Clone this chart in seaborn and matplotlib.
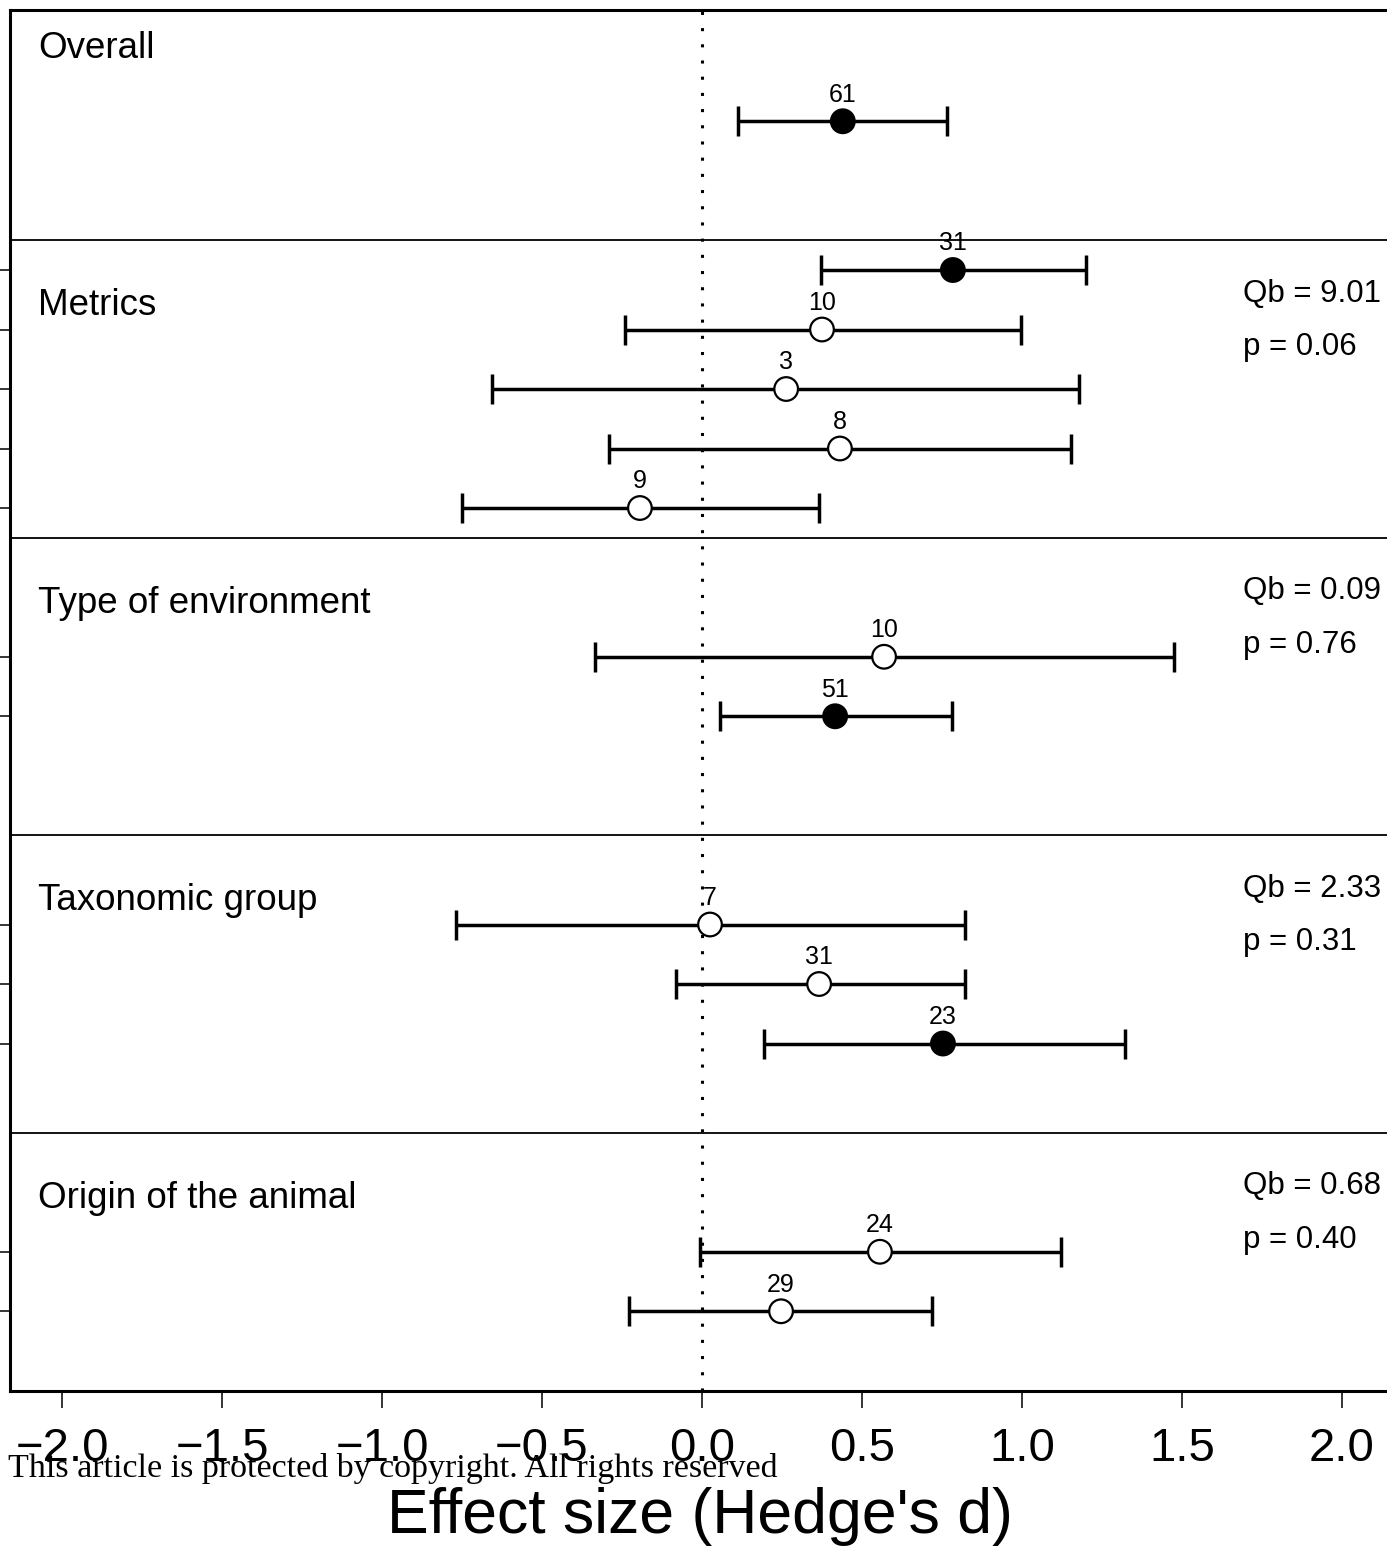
import numpy as np
import pandas as pd
import seaborn as sns
from matplotlib import pyplot as plt

# ------------------------------------------------------------------
# data
groups = ['Overall', 'Metrics', 'Type of environment', 'Taxonomic group', 'Origin of the animal']
group_sizes = [1, 5, 2, 3, 2]
qb_values = [None, '9.01', '0.09', '2.33', '0.68']
p_values = [None, '0.06', '0.76', '0.31', '0.40']

estimate = [0.44, 0.784, 0.375, 0.263, 0.431, -0.194, 0.569, 0.416, 0.025, 0.366, 0.753, 0.556, 0.247]
ci_low = [0.113, 0.372, -0.24, -0.656, -0.29, -0.75, -0.334, 0.056, -0.769, -0.081, 0.194, -0.006, -0.228]
ci_high = [0.766, 1.2, 0.997, 1.178, 1.153, 0.366, 1.475, 0.781, 0.822, 0.822, 1.322, 1.122, 0.719]
n_studies = [61, 31, 10, 3, 8, 9, 10, 51, 7, 31, 23, 24, 29]
significant = [True, True, False, False, False, False, False, True, False, False, True, False, False]

# ------------------------------------------------------------------
# layout: each group gets a block, rows centred in it (top to bottom)
block_heights = [4, 5, 5, 5, 5]
block_tops = []
ypos = []
top = 23.0
for h, k in zip(block_heights, group_sizes):
    block_tops.append(top)
    centre = top - h / 2
    for i in range(k):
        ypos.append(centre + (k - 1) / 2 - i)
    top -= h

df = pd.DataFrame({'est': estimate, 'lo': ci_low, 'hi': ci_high,
                   'n': n_studies, 'sig': significant, 'y': ypos})

W, H = 1387, 1551
sns.set_style('ticks')
plt.rcParams['font.family'] = ['Liberation Sans', 'DejaVu Sans']
plt.rcParams.update({'text.color': 'black', 'axes.edgecolor': 'black', 'axes.labelcolor': 'black',
                     'xtick.color': 'black', 'ytick.color': 'black'})
fig = plt.figure(figsize=(W / 100, H / 100), dpi=100)

ax = fig.add_axes([10 / W, 160 / H, 1385 / W, 1381 / H])
x_left = (10 - 702) / 320
x_right = (1395 - 702) / 320
y_bottom, y_top = -0.34, 22.87

# confidence intervals
ax.errorbar(df['est'], df['y'], xerr=[df['est'] - df['lo'], df['hi'] - df['est']],
            fmt='none', ecolor='black', elinewidth=2.5, capsize=10.8, capthick=2.5, zorder=2)

# point estimates (filled = significant)
sns.scatterplot(data=df, x='est', y='y', hue='sig', palette={True: 'black', False: 'white'},
                edgecolor='black', linewidth=1.6, s=290, legend=False, zorder=3, ax=ax)

# number of studies above each point
for _, r in df.iterrows():
    ax.text(r['est'], r['y'] + 0.33, str(r['n']), ha='center', va='baseline', fontsize=18)

# zero line
ax.axvline(0, color='black', lw=2.2, linestyle=(0, (1, 4.3)), zorder=1)

# group separators, labels and heterogeneity stats
for i, g in enumerate(groups):
    bt = block_tops[i]
    if i == 0:
        label_y = y_top - 0.65
    else:
        ax.axhline(bt, color='black', lw=1.3, zorder=1)
        label_y = bt - 1.1
    ax.text(-2.075, label_y, g, ha='left', va='center', fontsize=26.5)
    if qb_values[i] is not None:
        ax.text(1.69, bt - 0.9, 'Qb = ' + qb_values[i], ha='left', va='center', fontsize=22.5)
        ax.text(1.69, bt - 1.8, 'p = ' + p_values[i], ha='left', va='center', fontsize=22.5)

ax.set_xlim(x_left, x_right)
ax.set_ylim(y_bottom, y_top)

xt = np.arange(-2.0, 2.01, 0.5)
ax.set_xticks(xt)
ax.set_xticklabels([f'{v:.1f}'.replace('-', '\u2212') for v in xt], fontsize=34)
ax.tick_params(axis='x', length=12, width=1.1, pad=14, direction='out')

ax.set_yticks(df['y'][1:])
ax.set_yticklabels([])
ax.tick_params(axis='y', length=7, width=1.1, direction='out')

for s in ['left', 'bottom', 'top']:
    ax.spines[s].set_linewidth(2.2)
ax.spines['right'].set_visible(False)

ax.set_xlabel('')
ax.set_ylabel('')
fig.text(700 / W, 1 - 1517 / H, "Effect size (Hedge's d)", ha='center', va='center', fontsize=45)

fig.text(8 / W, 1 - 1468 / H, 'This article is protected by copyright. All rights reserved',
         ha='left', va='center', fontsize=24.5, family=['Liberation Serif', 'DejaVu Serif'])

fig.savefig('out.png', dpi=100)
